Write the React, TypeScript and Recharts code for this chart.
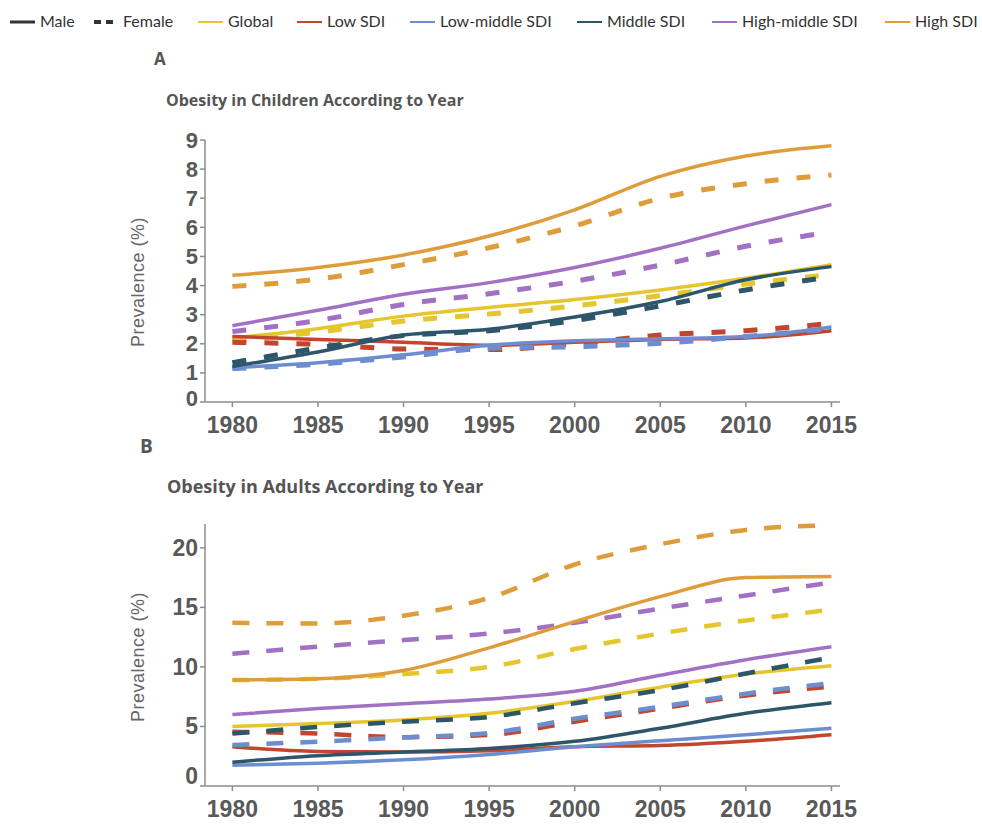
import { LineChart, Line, XAxis, YAxis, Label } from 'recharts';

// years shared by both panels
const years = [1980, 1985, 1990, 1995, 2000, 2005, 2010, 2015];
const yearTicks = [1980, 1985, 1990, 1995, 2000, 2005, 2010, 2015];

// A: children prevalence (%)
const childGlobalMale = [2.2, 2.52, 2.95, 3.25, 3.52, 3.85, 4.25, 4.72];
const childGlobalFemale = [2.1, 2.4, 2.78, 3.02, 3.3, 3.65, 4.05, 4.38];
const childLowMale = [2.25, 2.15, 2.05, 1.95, 2.05, 2.15, 2.2, 2.45];
const childLowFemale = [2.05, 1.98, 1.82, 1.8, 2.0, 2.3, 2.45, 2.7];
const childLowMidMale = [1.18, 1.35, 1.62, 1.95, 2.1, 2.17, 2.25, 2.58];
const childLowMidFemale = [1.15, 1.3, 1.55, 1.85, 1.9, 2.02, 2.25, 2.52];
const childMidMale = [1.22, 1.72, 2.3, 2.5, 2.92, 3.45, 4.2, 4.65];
const childMidFemale = [1.35, 1.85, 2.28, 2.45, 2.8, 3.3, 3.85, 4.3];
const childHighMidMale = [2.62, 3.15, 3.7, 4.1, 4.62, 5.28, 6.05, 6.78];
const childHighMidFemale = [2.42, 2.8, 3.35, 3.72, 4.15, 4.7, 5.35, 5.85];
const childHighMale = [4.35, 4.62, 5.05, 5.7, 6.6, 7.75, 8.45, 8.8];
const childHighFemale = [3.97, 4.22, 4.72, 5.3, 6.05, 7.0, 7.5, 7.8];

// B: adult prevalence (%)
const adultGlobalMale = [5.0, 5.25, 5.55, 6.1, 7.1, 8.3, 9.4, 10.1];
const adultGlobalFemale = [8.9, 9.0, 9.4, 10.0, 11.5, 12.8, 13.9, 14.8];
const adultLowMale = [3.3, 2.9, 2.85, 2.95, 3.3, 3.4, 3.75, 4.3];
const adultLowFemale = [4.55, 4.4, 4.1, 4.28, 5.4, 6.5, 7.6, 8.35];
const adultLowMidMale = [1.75, 1.92, 2.2, 2.65, 3.3, 3.8, 4.3, 4.85];
const adultLowMidFemale = [3.45, 3.72, 4.08, 4.45, 5.65, 6.65, 7.75, 8.65];
const adultMidMale = [2.0, 2.55, 2.85, 3.15, 3.75, 4.85, 6.1, 7.0];
const adultMidFemale = [4.4, 4.95, 5.4, 5.8, 6.95, 8.05, 9.45, 10.8];
const adultHighMidMale = [6.0, 6.5, 6.9, 7.3, 7.95, 9.3, 10.6, 11.7];
const adultHighMidFemale = [11.1, 11.7, 12.25, 12.8, 13.7, 14.9, 16.0, 17.1];
const adultHighMale = [8.9, 9.0, 9.7, 11.6, 13.8, 15.9, 17.5, 17.6];
const adultHighFemale = [13.7, 13.65, 14.3, 15.8, 18.6, 20.3, 21.5, 21.9];

const childTicks = [0, 1, 2, 3, 4, 5, 6, 7, 8, 9];
const adultTicks = [0, 5, 10, 15, 20];

const groups = ['global', 'low', 'lowMid', 'mid', 'highMid', 'high'];
const groupLabels = ['Global', 'Low SDI', 'Low-middle SDI', 'Middle SDI', 'High-middle SDI', 'High SDI'];

const COLORS: Record<string, string> = {
  global: '#E6C62E',
  low: '#C2452D',
  lowMid: '#6C8ED0',
  mid: '#2D566B',
  highMid: '#A371C4',
  high: '#DF9C3B',
};

const childData = years.map((year, i) => ({
  year,
  globalM: childGlobalMale[i],
  globalF: childGlobalFemale[i],
  lowM: childLowMale[i],
  lowF: childLowFemale[i],
  lowMidM: childLowMidMale[i],
  lowMidF: childLowMidFemale[i],
  midM: childMidMale[i],
  midF: childMidFemale[i],
  highMidM: childHighMidMale[i],
  highMidF: childHighMidFemale[i],
  highM: childHighMale[i],
  highF: childHighFemale[i],
}));

const adultData = years.map((year, i) => ({
  year,
  globalM: adultGlobalMale[i],
  globalF: adultGlobalFemale[i],
  lowM: adultLowMale[i],
  lowF: adultLowFemale[i],
  lowMidM: adultLowMidMale[i],
  lowMidF: adultLowMidFemale[i],
  midM: adultMidMale[i],
  midF: adultMidFemale[i],
  highMidM: adultHighMidMale[i],
  highMidF: adultHighMidFemale[i],
  highM: adultHighMale[i],
  highF: adultHighFemale[i],
}));

const axisFont = { fill: '#595959', fontSize: 23, fontWeight: 700, fontFamily: '"Liberation Sans", Arial, sans-serif' };
const axisStroke = '#8c8c8c';

// y tick: the zero label sits a bit above its tick, as in the original
const makeYTick = (zeroLift: number, size: number) => (props: any) => {
  const { x, y, payload } = props;
  const dy = payload.value === 0 ? -zeroLift : 0;
  return (
    <text x={x} y={y + dy} textAnchor="end" dominantBaseline="central" {...axisFont} fontSize={size}>
      {payload.value}
    </text>
  );
};

function Panel({ data, top, domain, ticks, dash, dashWidth, labelY, zeroLift, yFont }: any) {
  return (
    <div style={{ position: 'absolute', left: 0, top }}>
      <LineChart width={860} height={330} data={data} margin={{ top: 20, right: 20, bottom: 8, left: 145 }}>
        <XAxis
          dataKey="year"
          type="number"
          domain={[1978.4, 2015.5]}
          ticks={yearTicks}
          interval={0}
          height={40}
          tick={axisFont}
          tickSize={5}
          tickMargin={10}
          axisLine={{ stroke: axisStroke, strokeWidth: 1.5 }}
          tickLine={{ stroke: axisStroke, strokeWidth: 1.5 }}
        />
        <YAxis
          domain={domain}
          ticks={ticks}
          interval={0}
          width={60}
          tick={makeYTick(zeroLift, yFont)}
          tickSize={5}
          tickMargin={2}
          axisLine={{ stroke: axisStroke, strokeWidth: 1.5 }}
          tickLine={{ stroke: axisStroke, strokeWidth: 1.5 }}
        >
          <Label
            content={() => (
              <text
                x={138}
                y={labelY}
                transform={`rotate(-90, 138, ${labelY})`}
                textAnchor="middle"
                dominantBaseline="central"
                fill="#666"
                fontSize={18}
                letterSpacing={0.5}
                fontFamily='"Liberation Sans", Arial, sans-serif'
              >
                Prevalence (%)
              </text>
            )}
          />
        </YAxis>
        {groups.flatMap((g) => [
          <Line
            key={g + 'M'}
            type="monotone"
            dataKey={g + 'M'}
            stroke={COLORS[g]}
            strokeWidth={3.5}
            dot={false}
            isAnimationActive={false}
          />,
          <Line
            key={g + 'F'}
            type="monotone"
            dataKey={g + 'F'}
            stroke={COLORS[g]}
            strokeWidth={dashWidth}
            strokeDasharray={dash}
            dot={false}
            isAnimationActive={false}
          />,
        ])}
      </LineChart>
    </div>
  );
}

const legendX = [198, 297, 410, 577, 712, 885];

function Header() {
  const font = 'Lato, "Noto Sans", sans-serif';
  return (
    <svg width={982} height={825} style={{ position: 'absolute', left: 0, top: 0 }}>
      <line x1={10} x2={35} y1={22} y2={22} stroke="#333" strokeWidth={3} />
      <text x={40} y={27} fontSize={16} fontFamily={font} fill="#333">Male</text>
      <line x1={94} x2={115} y1={22} y2={22} stroke="#333" strokeWidth={4} strokeDasharray="7 5" />
      <text x={123} y={27} fontSize={16} fontFamily={font} fill="#333">Female</text>
      {groups.map((g, i) => (
        <g key={g}>
          <line x1={legendX[i]} x2={legendX[i] + 25} y1={22} y2={22} stroke={COLORS[g]} strokeWidth={2} />
          <text x={legendX[i] + 30} y={27} fontSize={16} fontFamily={font} fill="#333">{groupLabels[i]}</text>
        </g>
      ))}
      <text x={154} y={65} fontSize={17} fontWeight={700} fontFamily='"Open Sans", sans-serif' fill="#555">A</text>
      <text x={166} y={106} fontSize={16} fontWeight={700} fontFamily='"Open Sans", sans-serif' fill="#555">
        Obesity in Children According to Year
      </text>
      <text x={140} y={453} fontSize={19} fontWeight={700} fontFamily='"Open Sans", sans-serif' fill="#555">B</text>
      <text x={167} y={493} fontSize={18} fontWeight={700} fontFamily='"Open Sans", sans-serif' fill="#555">
        Obesity in Adults According to Year
      </text>
    </svg>
  );
}

export default function App() {
  return (
    <div style={{ position: 'absolute', left: 0, top: 0, width: 982, height: 825, background: '#fff' }}>
      <Header />
      <Panel data={childData} top={120} domain={[0, 9]} ticks={childTicks} dash="14 18" dashWidth={5} labelY={162} zeroLift={4} yFont={22} />
      <Panel data={adultData} top={504} domain={[0, 22]} ticks={adultTicks} dash="17 17" dashWidth={4.5} labelY={153} zeroLift={10} yFont={23} />
    </div>
  );
}
